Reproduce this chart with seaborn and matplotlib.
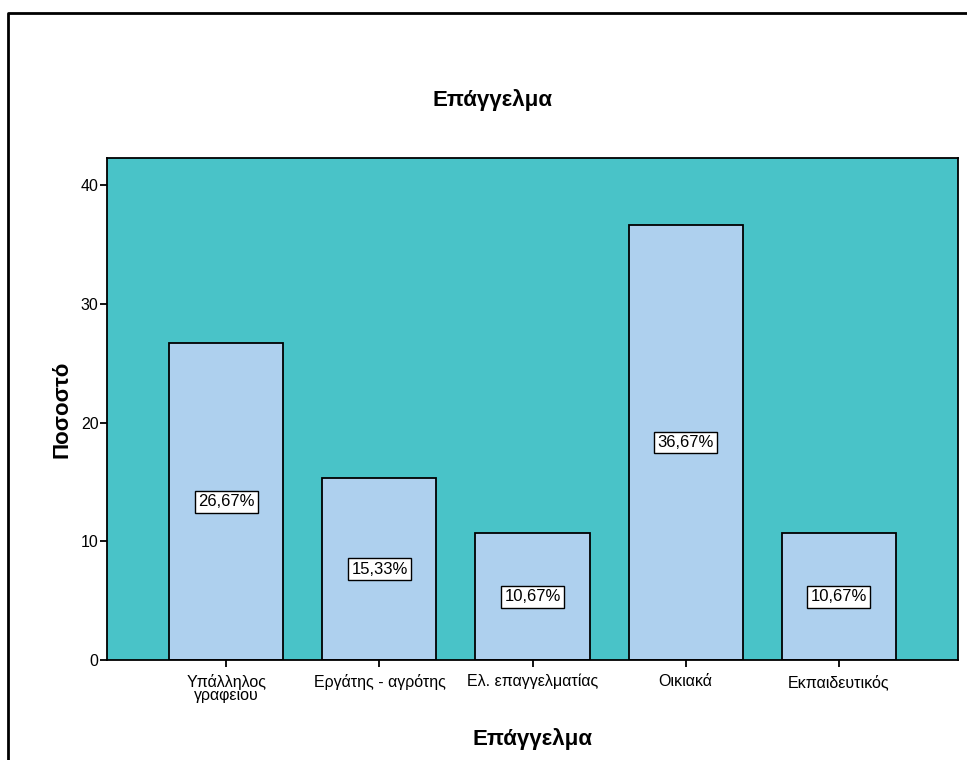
import matplotlib
matplotlib.use("Agg")
import matplotlib.pyplot as plt
from matplotlib.lines import Line2D
from matplotlib.transforms import offset_copy
import seaborn as sns
import pandas as pd

categories = ["Υπάλληλος\nγραφειου", "Εργάτης - αγρότης", "Ελ. επαγγελματίας", "Οικιακά", "Εκπαιδευτικός"]
percentages = [26.67, 15.33, 10.67, 36.67, 10.67]
y_ticks = [0, 10, 20, 30, 40]

sns.set_style("white")
plt.rcParams["font.family"] = ["Liberation Sans", "DejaVu Sans"]
plt.rcParams["text.color"] = "black"
plt.rcParams["axes.labelcolor"] = "black"
plt.rcParams["xtick.color"] = "black"
plt.rcParams["ytick.color"] = "black"

df = pd.DataFrame({"Επάγγελμα": categories, "Ποσοστό": percentages})

fig = plt.figure(figsize=(9.67, 7.6), dpi=100)
ax = fig.add_axes([107 / 967, 1 - 660 / 760, 851 / 967, 502 / 760])
ax.set_facecolor("#49C3C8")

sns.barplot(data=df, x="Επάγγελμα", y="Ποσοστό", ax=ax, color="#AED0EE",
            saturation=1, width=0.745, edgecolor="black", linewidth=1.3)

ax.set_xlim(-0.78, 4.78)
ax.set_ylim(0, 42.3)
ax.set_yticks(y_ticks)
ax.set_yticklabels([str(t) for t in y_ticks])

for s in ax.spines.values():
    s.set_visible(True)
    s.set_color("black")
    s.set_linewidth(1.3)

ax.tick_params(axis="both", direction="out", length=5, width=1.3, color="black",
               labelsize=11.5, bottom=True, left=True)
ax.tick_params(axis="x", pad=5)
ax.tick_params(axis="y", pad=1)
for lbl in ax.get_xticklabels():
    lbl.set_linespacing(0.85)

# value boxes in the middle of each bar
for i, v in enumerate(percentages):
    ax.text(i, v / 2, f"{v:.2f}%".replace(".", ","), ha="center", va="center",
            fontsize=12, color="black",
            bbox=dict(boxstyle="square,pad=0.2", facecolor="white",
                      edgecolor="black", linewidth=1.0))

ax.set_xlabel("Επάγγελμα", fontsize=16, fontweight="bold", labelpad=18)
ax.set_ylabel("Ποσοστό", fontsize=16, fontweight="bold", labelpad=6)
fig.text(493 / 967, 1 - 100 / 760, "Επάγγελμα", ha="center", va="center",
         fontsize=16, fontweight="bold")

# outer frame of the chart area
fx = 7.5 / 967
fy = 1 - 12.5 / 760
fig.add_artist(Line2D([fx, fx, 1.0], [0.0, fy, fy], transform=fig.transFigure,
                      color="black", linewidth=2))

fig.savefig("out.png", dpi=100)
